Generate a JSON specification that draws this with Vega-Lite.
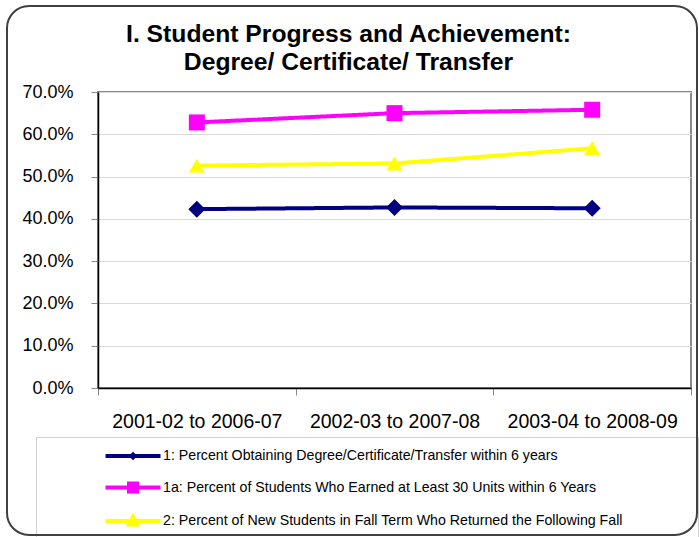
{
  "$schema": "https://vega.github.io/schema/vega-lite/v6.json",
  "width": 593,
  "height": 296,
  "autosize": {"type": "none"},
  "padding": {"left": 98, "top": 92, "right": 8, "bottom": 149},
  "background": "white",
  "title": {
    "text": ["I.  Student Progress and Achievement:", "Degree/ Certificate/ Transfer"],
    "anchor": "middle",
    "dx": -46,
    "dy": 77.5,
    "offset": 8,
    "fontSize": 24.7,
    "font": "Liberation Sans",
    "fontWeight": "bold",
    "lineHeight": 28,
    "color": "black"
  },
  "config": {
    "font": "Liberation Sans",
    "view": {"stroke": "#888888", "strokeWidth": 2}
  },
  "data": {
    "values": [
      {"period": "2001-02 to 2006-07", "series": "1:  Percent Obtaining Degree/Certificate/Transfer within 6 years", "value": 0.423},
      {"period": "2002-03 to 2007-08", "series": "1:  Percent Obtaining Degree/Certificate/Transfer within 6 years", "value": 0.427},
      {"period": "2003-04 to 2008-09", "series": "1:  Percent Obtaining Degree/Certificate/Transfer within 6 years", "value": 0.425},
      {"period": "2001-02 to 2006-07", "series": "1a:  Percent of Students Who Earned at Least 30 Units within 6 Years", "value": 0.628},
      {"period": "2002-03 to 2007-08", "series": "1a:  Percent of Students Who Earned at Least 30 Units within 6 Years", "value": 0.650},
      {"period": "2003-04 to 2008-09", "series": "1a:  Percent of Students Who Earned at Least 30 Units within 6 Years", "value": 0.658},
      {"period": "2001-02 to 2006-07", "series": "2:  Percent of New Students in Fall Term Who Returned the Following Fall", "value": 0.526},
      {"period": "2002-03 to 2007-08", "series": "2:  Percent of New Students in Fall Term Who Returned the Following Fall", "value": 0.531},
      {"period": "2003-04 to 2008-09", "series": "2:  Percent of New Students in Fall Term Who Returned the Following Fall", "value": 0.567}
    ]
  },
  "encoding": {
    "x": {
      "field": "period",
      "type": "nominal",
      "sort": null,
      "scale": {"paddingInner": 0, "paddingOuter": 0},
      "axis": {
        "title": null,
        "labelAngle": 0,
        "labelFontSize": 19.5,
        "labelColor": "black",
        "labelFont": "Liberation Sans",
        "tickBand": "extent",
        "tickColor": "#888888",
        "tickSize": 7,
        "labelPadding": 17,
        "domainColor": "black",
        "domainWidth": 1.5,
        "grid": false
      }
    },
    "y": {
      "field": "value",
      "type": "quantitative",
      "scale": {"domain": [0, 0.7], "nice": false},
      "axis": {
        "title": null,
        "format": ".1%",
        "values": [0, 0.1, 0.2, 0.3, 0.4, 0.5, 0.6, 0.7],
        "labelFontSize": 18,
        "labelColor": "black",
        "labelFont": "Liberation Sans",
        "tickSize": 7,
        "tickColor": "#888888",
        "labelPadding": 18,
        "domainColor": "black",
        "domainWidth": 1.5,
        "gridColor": "#d9d9d9",
        "gridWidth": 1
      }
    },
    "color": {
      "field": "series",
      "type": "nominal",
      "scale": {
        "domain": [
          "1:  Percent Obtaining Degree/Certificate/Transfer within 6 years",
          "1a:  Percent of Students Who Earned at Least 30 Units within 6 Years",
          "2:  Percent of New Students in Fall Term Who Returned the Following Fall"
        ],
        "range": ["#000080", "#FF00FF", "#FFFF00"]
      },
      "legend": {
        "orient": "none",
        "legendX": -62,
        "legendY": 345,
        "direction": "vertical",
        "title": " ",
        "titleOrient": "right",
        "titlePadding": 64,
        "padding": 7,
        "fillColor": "white",
        "strokeColor": "#d0d0d0",
        "symbolSize": 400,
        "symbolStrokeWidth": 4,
        "symbolOffset": 78,
        "labelOffset": 18,
        "labelFontSize": 14.2,
        "labelFont": "Liberation Sans",
        "labelColor": "black",
        "labelLimit": 700,
        "rowPadding": 9.5,
        "encode": {
          "symbols": {
            "update": {
              "shape": {"signal": "substring(datum.value,0,2)=='1:' ? 'M-2.75,0L2.75,0M-0.15,0L0,-0.15L0.15,0L0,0.15Z' : substring(datum.value,0,2)=='1a' ? 'M-2.75,0L2.75,0M-0.4,-0.4L0.4,-0.4L0.4,0.4L-0.4,0.4Z' : 'M-2.75,0L2.75,0M-0.4,0.35L0,-0.4L0.4,0.35Z'"},
              "strokeWidth": {"value": 4},
              "opacity": {"value": 1},
              "fillOpacity": {"value": 1},
              "strokeOpacity": {"value": 1}
            }
          }
        }
      }
    }
  },
  "layer": [
    {
      "mark": {"type": "line", "strokeWidth": 4},
      "encoding": {
        "strokeDash": {
          "datum": "frame",
          "legend": {
            "orient": "none",
            "legendX": -91,
            "legendY": -86,
            "title": null,
            "padding": 264,
            "strokeColor": "#404040",
            "cornerRadius": 22,
            "symbolSize": 1,
            "symbolOpacity": 0,
            "symbolStrokeWidth": 0,
            "labelExpr": "' '",
            "labelFontSize": 1,
            "labelOffset": 161,
            "encode": {
              "legend": {"update": {"strokeWidth": {"value": 2}}}
            }
          }
        }
      }
    },
    {
      "transform": [{"filter": {"field": "series", "equal": "1:  Percent Obtaining Degree/Certificate/Transfer within 6 years"}}],
      "mark": {"type": "point", "shape": "diamond", "filled": true, "opacity": 1, "size": 289}
    },
    {
      "transform": [{"filter": {"field": "series", "equal": "1a:  Percent of Students Who Earned at Least 30 Units within 6 Years"}}],
      "mark": {"type": "point", "shape": "square", "filled": true, "opacity": 1, "size": 256}
    },
    {
      "transform": [{"filter": {"field": "series", "equal": "2:  Percent of New Students in Fall Term Who Returned the Following Fall"}}],
      "mark": {"type": "point", "shape": "triangle-up", "filled": true, "opacity": 1, "size": 256}
    }
  ]
}
